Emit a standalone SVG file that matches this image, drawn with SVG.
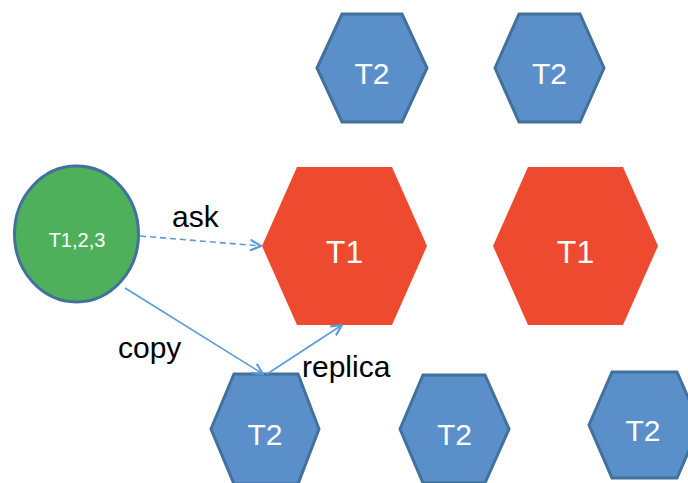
<svg xmlns="http://www.w3.org/2000/svg" width="688" height="483" viewBox="0 0 688 483">
<defs>
<style>
.blue{fill:#5B8FC9;stroke:#41719C;stroke-width:3;stroke-linejoin:miter}
.red{fill:#EE4A2F}
.green{fill:#4EB05A;stroke:#41719C;stroke-width:3}
.nt{font-family:"Liberation Sans",Arial,sans-serif;fill:#fff;text-anchor:middle}
.lbl{font-family:"Liberation Sans",Arial,sans-serif;fill:#000;font-size:30px}
.conn{stroke:#5B9BD5;stroke-width:1.6;fill:none}
</style>
<marker id="arr" viewBox="0 0 12 12" refX="11" refY="6" markerWidth="12" markerHeight="12" markerUnits="userSpaceOnUse" orient="auto">
<path d="M1,1 L11,6 L1,11" fill="none" stroke="#5B9BD5" stroke-width="2.2" stroke-linecap="round" stroke-linejoin="round"/>
</marker>
</defs>
<rect width="688" height="483" fill="#fff"/>
<g id="t2-top-1">
<polygon class="blue" points="317,68 342,14 402,14 427,68 402,122 342,122"/>
<text class="nt" x="372" y="84" font-size="30">T2</text>
</g>
<g id="t2-top-2">
<polygon class="blue" points="495,68 519,14 580,14 604,68 580,122 519,122"/>
<text class="nt" x="549.5" y="84" font-size="30">T2</text>
</g>
<g id="t1-left">
<polygon class="red" points="262,246 297,167 392,167 427,246 392,325 297,325"/>
<text class="nt" x="344.5" y="263" font-size="32">T1</text>
</g>
<g id="t1-right">
<polygon class="red" points="493,246 528,167 623,167 658,246 623,325 528,325"/>
<text class="nt" x="575.5" y="263" font-size="32">T1</text>
</g>
<g id="t2-bot-1">
<polygon class="blue" points="211,429 234,374 298,374 319,429 298,484 234,484"/>
<text class="nt" x="265" y="445" font-size="30">T2</text>
</g>
<g id="t2-bot-2">
<polygon class="blue" points="400,429 423,375 485,375 509,429 485,483 423,483"/>
<text class="nt" x="454.5" y="445" font-size="30">T2</text>
</g>
<g id="t2-bot-3">
<polygon class="blue" points="589,425 612,372 677,372 700,425 677,478 612,478"/>
<text class="nt" x="643" y="441" font-size="30">T2</text>
</g>
<g id="t123">
<ellipse class="green" cx="76.5" cy="234" rx="62" ry="68"/>
<text class="nt" x="77" y="247" font-size="20">T1,2,3</text>
</g>
<g id="connectors">
<line class="conn" x1="140" y1="236" x2="261" y2="246" stroke-dasharray="6,4" marker-end="url(#arr)"/>
<line class="conn" x1="125" y1="288" x2="263" y2="374" marker-end="url(#arr)"/>
<line class="conn" x1="267" y1="374" x2="342" y2="325" marker-end="url(#arr)"/>
</g>
<g id="labels">
<text class="lbl" x="172" y="227">ask</text>
<text class="lbl" x="118" y="358">copy</text>
<text class="lbl" x="302" y="377">replica</text>
</g>
</svg>
